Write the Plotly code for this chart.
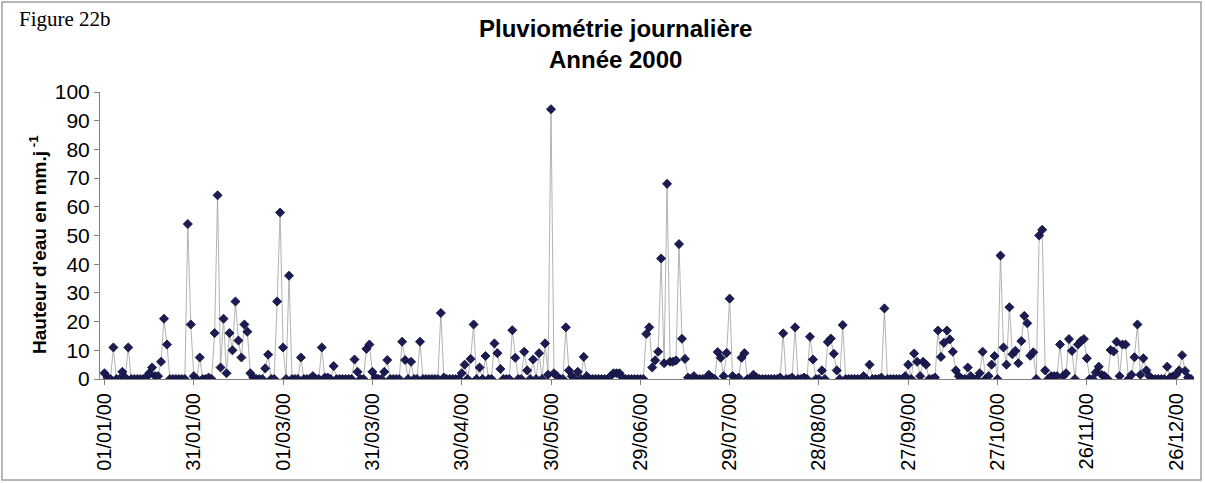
import pandas as pd
import plotly.graph_objects as go

# daily rainfall, year 2000 (mm/day), one list per month
jan = [2, 0.5, 0, 11, 0, 0, 2.5, 0.5, 11, 0, 0, 0, 0, 0, 0.5, 2, 4, 1, 1, 6,
       21, 12, 0, 0, 0, 0, 0, 0, 54, 19, 1]
feb = [0, 7.5, 0, 0, 0.5, 0, 16, 64, 4, 21, 2, 16, 10, 27, 13.4, 7.5, 19, 16.5,
       2, 0.5, 0, 0, 0, 3.7, 8.5, 0, 0, 27, 58]
mar = [11, 0, 36, 0, 0, 0, 7.5, 0, 0, 0, 1, 0, 0, 11, 0.5, 0.5, 0, 4.5, 0, 0,
       0, 0, 0, 0, 6.8, 2.5, 0, 0, 10.5, 12, 2.5]
apr = [0.5, 0, 0, 2.5, 6.6, 0, 0, 0, 0, 13, 6.6, 0, 6, 0, 0, 13, 0, 0, 0, 0,
       0, 0, 23, 0.5, 0, 0, 0, 0, 0, 2]
may = [5, 0, 7, 19, 0, 4, 0, 8, 0, 0, 12.4, 9, 3.5, 0, 0, 0, 17, 7.4, 0, 0,
       9.5, 3, 0, 6.8, 0, 9, 0, 12.4, 1.5, 94, 2]
jun = [1, 0, 0, 18, 3, 1, 0, 2.5, 0, 7.7, 1, 0, 0, 0, 0, 0, 0, 0, 1, 2,
       2, 2, 0.5, 0, 0, 0, 0, 0, 0, 0]
jul = [15.7, 18, 4, 6.5, 9.5, 42, 5.5, 68, 6, 6, 6.5, 47, 14, 7, 0.5, 0, 1, 0,
       0, 0, 0, 1.5, 0.5, 0, 9.4, 7.4, 1, 9.1, 28, 1, 0]
aug = [0.5, 7.4, 9, 0, 0, 1.5, 0.5, 0, 0, 0, 0, 0, 0, 0, 0.5, 15.9, 0, 0, 0.5,
       18, 0, 0, 0.5, 0, 14.7, 6.8, 0, 0, 3, 0, 12.9]
sep = [14.1, 8.8, 3, 0, 18.8, 0, 0, 0, 0, 0, 0, 1, 0, 5, 0, 0, 0, 0.5, 24.6, 0,
       0, 0, 0, 0, 0, 1, 5, 0, 8.9, 6]
oct_ = [1, 6, 5, 0, 0, 0.5, 16.9, 7.7, 12.6, 16.9, 13.8, 9.5, 3, 1, 0, 0, 4, 1,
        0, 0, 2, 9.5, 0, 1, 5, 8, 0, 43, 11, 5, 25]
nov = [8.6, 9.8, 5.5, 13.2, 22, 19.4, 8.1, 9.3, 0, 50, 52, 3, 0, 1, 1, 1, 12, 1,
       2, 13.9, 9.8, 0, 12, 13.2, 13.9, 7.2, 0, 0, 2.3, 4.3]
dec = [1.5, 1, 0, 10.1, 9.6, 13, 1, 12, 12, 0, 1.5, 7.6, 19, 1.5, 7.2, 3, 1, 0,
       0, 0, 0, 0, 4.3, 0.6, 1, 1.5, 3, 8.3, 2.8, 0.5, 0]

pluie = jan + feb + mar + apr + may + jun + jul + aug + sep + oct_ + nov + dec
dates = pd.date_range("2000-01-01", "2000-12-31", freq="D")

W, H = 1205, 483
ml, mr, mt, mb = 100, 11, 92, 104
pw, ph = W - ml - mr, H - mt - mb


def px(x):
    # pixel column -> paper x
    return (x - ml) / pw


def py(y):
    # pixel row -> paper y
    return 1 - (y - mt) / ph


fig = go.Figure()
fig.add_trace(go.Scatter(
    x=dates, y=pluie,
    mode="lines+markers",
    line=dict(color="#a0a0a0", width=0.8),
    marker=dict(symbol="diamond", size=7, color="#1c1c55",
                line=dict(color="#0a0a30", width=0.8)),
    hoverinfo="x+y",
))

fig.update_layout(
    width=W, height=H,
    margin=dict(l=ml, r=mr, t=mt, b=mb, autoexpand=False),
    paper_bgcolor="white", plot_bgcolor="white",
    showlegend=False,
    font=dict(family="Arial, Liberation Sans", color="black"),
)

fig.update_xaxes(
    type="date", automargin=False,
    range=["1999-12-30 12:00", "2001-01-01"],
    tick0="2000-01-01", dtick=30 * 86400000,
    tickformat="%d/%m/%y", tickangle=-90,
    tickfont=dict(size=20),
    showgrid=False, zeroline=False,
    showline=True, linecolor="#808080", linewidth=1,
    ticks="outside", ticklen=5, tickcolor="#808080",
)
fig.update_yaxes(
    range=[0, 100], dtick=10, automargin=False,
    tickfont=dict(size=21),
    showgrid=False, zeroline=False,
    showline=True, linecolor="#808080", linewidth=1,
    ticks="outside", ticklen=5, tickcolor="#808080",
)

# y axis title
fig.add_annotation(text="<b>Hauteur d'eau en mm.j<sup> -1</sup></b>", xref="paper", yref="paper",
                   x=px(24), y=py(245), textangle=-90, showarrow=False,
                   font=dict(size=19))

# title and figure label
fig.add_annotation(text="<b>Pluviométrie journalière</b>", xref="paper", yref="paper",
                   x=px(615), y=py(28), showarrow=False, font=dict(size=24),
                   yanchor="middle")
fig.add_annotation(text="<b>Année 2000</b>", xref="paper", yref="paper",
                   x=px(615), y=py(59), showarrow=False, font=dict(size=24),
                   yanchor="middle")
fig.add_annotation(text="Figure 22b", xref="paper", yref="paper",
                   x=px(17), y=py(19), xanchor="left", yanchor="middle",
                   showarrow=False,
                   font=dict(size=21, family="Liberation Serif, Times New Roman"))

# outer frame of the chart
fig.add_shape(type="rect", xref="paper", yref="paper",
              x0=px(2), x1=px(W - 4), y0=py(H - 3), y1=py(2),
              line=dict(color="#a0a0a0", width=1.5))

# page has a default 8px body margin; drop it so the figure sits at 0,0
fig.write_html("out.html", config={"displayModeBar": False},
               post_script="document.body.style.margin='0px';document.body.style.overflow='hidden';")
